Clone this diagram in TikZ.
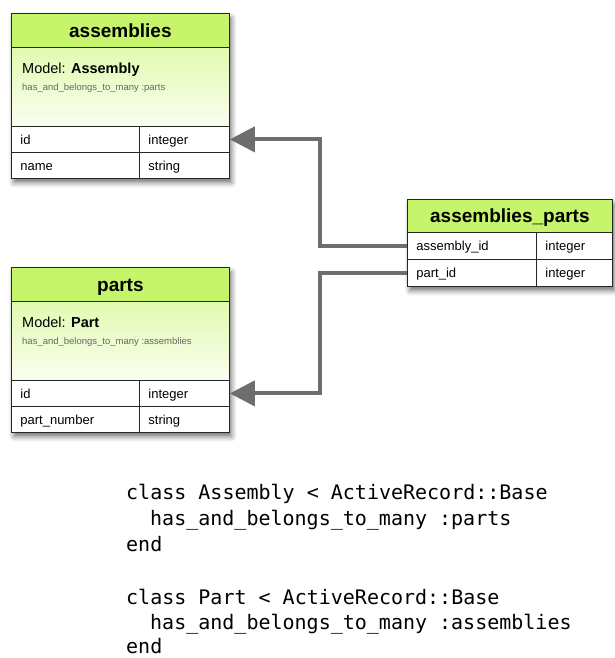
\documentclass[tikz,border=0pt]{standalone}
\usepackage{fontspec}
\setmainfont{Liberation Sans}
\newfontfamily\codefont{DejaVu Sans Mono}
\usetikzlibrary{arrows.meta,shadows.blur}

\definecolor{headlime}{HTML}{C6F46A}
\definecolor{modeltop}{HTML}{E2FAB0}
\definecolor{modelbot}{HTML}{FAFEF0}
\definecolor{gridline}{HTML}{262626}
\definecolor{linkgray}{HTML}{6E6E6E}
\definecolor{notegray}{HTML}{666666}

\tikzset{
	tablebg/.style={draw=gridline, line width=1.4pt, fill=white, anchor=north west, inner sep=0pt,
		blur shadow={shadow xshift=2pt, shadow yshift=-4pt, shadow blur radius=5pt, shadow opacity=55}},
	headcell/.style={draw=gridline, line width=0.8pt, fill=headlime, anchor=north west, inner sep=0pt,
		text height=14pt, text depth=0pt, font=\fontsize{19}{21}\selectfont\bfseries},
	modelcell/.style={draw=gridline, line width=0.8pt, top color=modeltop, bottom color=modelbot,
		anchor=north west, inner sep=0pt},
	fieldcell/.style={draw=gridline, line width=0.8pt, fill=white, anchor=north west,
		inner xsep=9pt, inner ysep=0pt, minimum height=26pt, text height=11pt, text depth=1pt,
		align=left, font=\fontsize{13}{15}\selectfont},
	modeltext/.style={anchor=base west, inner sep=0pt, font=\fontsize{14.5}{16}\selectfont},
	notetext/.style={anchor=base west, inner sep=0pt, text=notegray, font=\fontsize{9.5}{10}\selectfont},
	codeline/.style={anchor=base west, inner sep=0pt, font=\codefont\fontsize{20}{24}\selectfont},
	link/.style={draw=linkgray, line width=4pt, -{Triangle[length=25pt,width=25pt]}},
}

\begin{document}
\begin{tikzpicture}[x=1pt, y=-1pt]
		\useasboundingbox (0,0) rectangle (614,658);

		% assemblies
		\node[tablebg, minimum width=218, minimum height=165] (asmtab) at (11,13) {};
		\node[headcell, minimum width=218, minimum height=34] (asmhead) at (11,13) {assemblies};
		\node[modelcell, minimum width=218, minimum height=79] (asmmodel) at (11,47) {};
		\node[modeltext] (asmname) at (22,74) {Model: \textbf{Assembly}};
		\node[notetext] (asmnote) at (22,91) {has\_and\_belongs\_to\_many :parts};
		\node[fieldcell, text width=110] (asmid) at (11,126) {id};
		\node[fieldcell, text width=72] (asmidtype) at (139,126) {integer};
		\node[fieldcell, text width=110] (asmname) at (11,152) {name};
		\node[fieldcell, text width=72] (asmnametype) at (139,152) {string};

		% parts
		\node[tablebg, minimum width=218, minimum height=165] (parttab) at (11,267) {};
		\node[headcell, minimum width=218, minimum height=34] (parthead) at (11,267) {parts};
		\node[modelcell, minimum width=218, minimum height=79] (partmodel) at (11,301) {};
		\node[modeltext] (partname) at (22,327) {Model: \textbf{Part}};
		\node[notetext] (partnote) at (22,344) {has\_and\_belongs\_to\_many :assemblies};
		\node[fieldcell, text width=110] (partid) at (11,380) {id};
		\node[fieldcell, text width=72] (partidtype) at (139,380) {integer};
		\node[fieldcell, text width=110] (partnum) at (11,406) {part\_number};
		\node[fieldcell, text width=72] (partnumtype) at (139,406) {string};

		% assemblies_parts
		\node[tablebg, minimum width=205, minimum height=87] (aptab) at (407,199) {};
		\node[headcell, minimum width=205, minimum height=33] (aphead) at (407,199) {assemblies\_parts};
		\node[fieldcell, text width=111, minimum height=27] (apasm) at (407,232) {assembly\_id};
		\node[fieldcell, text width=58, minimum height=27] (apasmtype) at (536,232) {integer};
		\node[fieldcell, text width=111, minimum height=27] (appart) at (407,259) {part\_id};
		\node[fieldcell, text width=58, minimum height=27] (apparttype) at (536,259) {integer};

		% links
		\coordinate (bendx) at (320,0);
		\draw[link] (apasm.west) -- (apasm.west -| bendx) |- (asmidtype.east);
		\draw[link] (appart.west) -- (appart.west -| bendx) |- (partidtype.east);

		% ruby code
		\foreach \yy/\xx/\txt [count=\i] in {
				499/126/{class Assembly < ActiveRecord::Base},
				525/150/{has\_and\_belongs\_to\_many :parts},
				551/126/{end},
				604/126/{class Part < ActiveRecord::Base},
				629/150/{has\_and\_belongs\_to\_many :assemblies},
				653/126/{end}}
			\node[codeline] (code\i) at (\xx,\yy) {\txt};
	\end{tikzpicture}
\end{document}
